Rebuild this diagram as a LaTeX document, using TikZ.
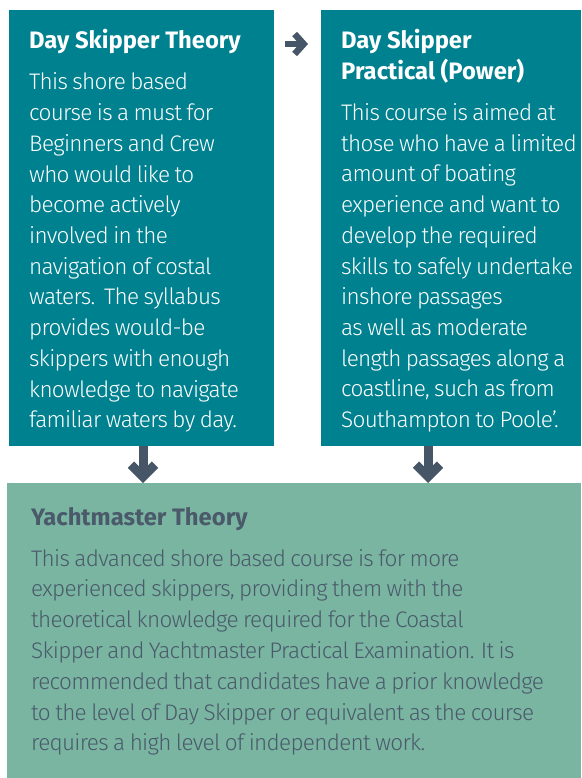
\documentclass[tikz,border=0pt]{standalone}
\usepackage{fontspec}
\setmainfont{Fira Sans}[UprightFont={* Light}, BoldFont={* Bold}]
\newfontfamily\tightfont{Fira Sans}[UprightFont={* Light}, LetterSpace=-3, WordSpace=0.8]
\usetikzlibrary{arrows.meta,calc}
\definecolor{boxteal}{RGB}{0,129,143}
\definecolor{boxgreen}{RGB}{122,181,162}
\definecolor{ink}{RGB}{74,90,106}
\definecolor{arrowc}{RGB}{70,86,102}
\tikzset{
  tealbox/.style={fill=boxteal, draw=none, inner sep=0pt, outer sep=0pt, anchor=north west},
  greenbox/.style={fill=boxgreen, draw=none, inner sep=0pt, outer sep=0pt, anchor=north west},
  body/.style={text=white, inner sep=0pt, anchor=base west, font=\tightfont\fontsize{22.5}{27}\selectfont},
  title/.style={text=white, inner sep=0pt, anchor=base west, font=\fontsize{23.8}{27}\selectfont\bfseries},
  gbody/.style={body, text=ink},
  gtitle/.style={title, text=ink},
  downarrow/.style={draw=arrowc, line width=9pt, -{Straight Barb[sharp, length=12pt, width=24pt]}},
  rightarrow/.style={draw=arrowc, line width=6.5pt, -{Straight Barb[sharp, length=9pt, width=20pt]}},
}
\begin{document}
\begin{tikzpicture}[x=1pt,y=-1pt]
\useasboundingbox (0,0) rectangle (581,778);
\node[tealbox, minimum width=265pt, minimum height=435.5pt] (L) at (9,10.5) {};
\node[tealbox, minimum width=260pt, minimum height=435.5pt] (R) at (321,10.5) {};
\node[greenbox, minimum width=574pt, minimum height=295pt] (B) at (7,483) {};

\node[title] (Lt) at (29,48.5) {Day Skipper Theory};
\foreach \t [count=\i from 0] in {This shore based, course is a must for, Beginners and Crew, who would like to, become actively, involved in the, navigation of costal, waters.\ \ The syllabus, provides would-be, skippers with enough, knowledge to navigate, familiar waters by day.}
  \node[body] (L\i) at (29,{90+30.7*\i}) {\t};

\node[title] (Rt1) at (341,48.5) {Day Skipper};
\node[title] (Rt2) at (341,79.5) {Practical (Power)};
\foreach \t [count=\i from 0] in {This course is aimed at, those who have a limited, amount of boating, experience and want to, develop the required, skills to safely undertake, inshore passages, as well as moderate, length passages along a, {coastline, such as from}, Southampton to Poole’.}
  \node[body] (R\i) at (341,{120.5+30.7*\i}) {\t};

\node[gtitle] (Bt) at (31,525) {Yachtmaster Theory};
\foreach \t [count=\i from 0] in {This advanced shore based course is for more, {experienced skippers, providing them with the}, theoretical knowledge required for the Coastal, Skipper and Yachtmaster Practical Examination. It is, recommended that candidates have a prior knowledge, to the level of Day Skipper or equivalent as the course, requires a high level of independent work.}
  \node[gbody] (B\i) at (31,{566+30.8*\i}) {\t};

\coordinate (a1) at ($(L.north east)+(11,33.5)$);
\coordinate (a2) at ($(R.north west)+(-13,33.5)$);
\draw[rightarrow] (a1) -- (a2);
\coordinate (d1) at ($(L.south west)+(134,0)$);
\draw[downarrow] (d1) -- (d1 |- B.north);
\coordinate (d2) at ($(R.south west)+(107,0)$);
\draw[downarrow] (d2) -- (d2 |- B.north);
\end{tikzpicture}
\end{document}
